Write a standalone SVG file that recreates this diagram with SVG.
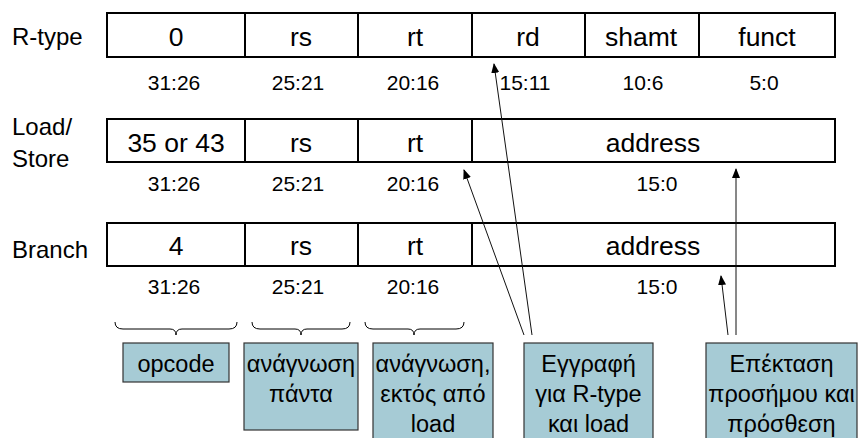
<svg xmlns="http://www.w3.org/2000/svg" width="859" height="438" viewBox="0 0 859 438">
  <defs>
    <marker id="arrowhead" markerUnits="userSpaceOnUse" markerWidth="10" markerHeight="10" viewBox="0 0 10 10" refX="9" refY="5" orient="auto">
      <path d="M0,1 L10,5 L0,9 Z" fill="#000"/>
    </marker>
  </defs>
  <style>
    text { font-family: "Liberation Sans", Arial, sans-serif; fill: #000; }
    .field { font-size: 26.5px; text-anchor: middle; }
    .rowlabel { font-size: 24px; }
    .bits { font-size: 21px; text-anchor: middle; }
    .note { font-size: 23.5px; text-anchor: middle; }
    .frame { fill: #fff; stroke: #000; stroke-width: 2; }
    .div { stroke: #000; stroke-width: 2; }
    .notebox { fill: #a6cbd5; stroke: #333; stroke-width: 1.2; }
    .brace { fill: none; stroke: #000; stroke-width: 1; }
    .link { fill: none; stroke: #111; stroke-width: 1; marker-end: url(#arrowhead); }
  </style>

  <!-- R-type format -->
  <g id="rtype">
    <text class="rowlabel" x="12" y="45">R-type</text>
    <rect class="frame" x="107" y="13" width="728" height="44"/>
    <line class="div" x1="245" y1="13" x2="245" y2="57"/>
    <line class="div" x1="358" y1="13" x2="358" y2="57"/>
    <line class="div" x1="472" y1="13" x2="472" y2="57"/>
    <line class="div" x1="585" y1="13" x2="585" y2="57"/>
    <line class="div" x1="699" y1="13" x2="699" y2="57"/>
    <text class="field" x="176" y="46">0</text>
    <text class="field" x="301" y="46">rs</text>
    <text class="field" x="415" y="46">rt</text>
    <text class="field" x="528" y="46">rd</text>
    <text class="field" x="641" y="46">shamt</text>
    <text class="field" x="767" y="46">funct</text>
    <text class="bits" x="174" y="90">31:26</text>
    <text class="bits" x="298" y="90">25:21</text>
    <text class="bits" x="413" y="90">20:16</text>
    <text class="bits" x="525" y="90">15:11</text>
    <text class="bits" x="643" y="90">10:6</text>
    <text class="bits" x="764" y="90">5:0</text>
  </g>

  <!-- Load/Store format -->
  <g id="loadstore">
    <text class="rowlabel" x="12" y="135">Load/</text>
    <text class="rowlabel" x="12" y="167">Store</text>
    <rect class="frame" x="107" y="119" width="728" height="43"/>
    <line class="div" x1="245" y1="119" x2="245" y2="162"/>
    <line class="div" x1="358" y1="119" x2="358" y2="162"/>
    <line class="div" x1="472" y1="119" x2="472" y2="162"/>
    <text class="field" x="176" y="152">35 or 43</text>
    <text class="field" x="301" y="152">rs</text>
    <text class="field" x="415" y="152">rt</text>
    <text class="field" x="653" y="152">address</text>
    <text class="bits" x="174" y="191">31:26</text>
    <text class="bits" x="298" y="191">25:21</text>
    <text class="bits" x="413" y="191">20:16</text>
    <text class="bits" x="657" y="191">15:0</text>
  </g>

  <!-- Branch format -->
  <g id="branch">
    <text class="rowlabel" x="12" y="258">Branch</text>
    <rect class="frame" x="107" y="223" width="728" height="43"/>
    <line class="div" x1="245" y1="223" x2="245" y2="266"/>
    <line class="div" x1="358" y1="223" x2="358" y2="266"/>
    <line class="div" x1="472" y1="223" x2="472" y2="266"/>
    <text class="field" x="176" y="255">4</text>
    <text class="field" x="301" y="255">rs</text>
    <text class="field" x="415" y="255">rt</text>
    <text class="field" x="653" y="255">address</text>
    <text class="bits" x="174" y="294">31:26</text>
    <text class="bits" x="298" y="294">25:21</text>
    <text class="bits" x="413" y="294">20:16</text>
    <text class="bits" x="657" y="294">15:0</text>
  </g>

  <!-- Braces under the first three fields -->
  <g id="braces">
    <path class="brace" d="M115,322 Q115,329 123,329 L170,329 Q176,329 176,335 Q176,329 182,329 L229,329 Q237,329 237,322"/>
    <path class="brace" d="M252,322 Q252,329 260,329 L295,329 Q301,329 301,335 Q301,329 307,329 L342,329 Q350,329 350,322"/>
    <path class="brace" d="M365,322 Q365,329 373,329 L408,329 Q414,329 414,335 Q414,329 420,329 L456,329 Q464,329 464,322"/>
  </g>

  <!-- Annotation boxes -->
  <g id="note-opcode">
    <rect class="notebox" x="123" y="343" width="106" height="39"/>
    <text class="note" x="176" y="372">opcode</text>
  </g>
  <g id="note-read-always">
    <rect class="notebox" x="244" y="343" width="114" height="87"/>
    <text class="note" x="301" y="372">ανάγνωση</text>
    <text class="note" x="301" y="402">πάντα</text>
  </g>
  <g id="note-read-except-load">
    <rect class="notebox" x="373" y="343" width="120" height="100"/>
    <text class="note" x="433" y="372">ανάγνωση,</text>
    <text class="note" x="433" y="402">εκτός από</text>
    <text class="note" x="433" y="432">load</text>
  </g>
  <g id="note-write">
    <rect class="notebox" x="524" y="343" width="129" height="100"/>
    <text class="note" x="588.5" y="372">Εγγραφή</text>
    <text class="note" x="588.5" y="402">για R-type</text>
    <text class="note" x="588.5" y="432">και load</text>
  </g>
  <g id="note-signext">
    <rect class="notebox" x="706" y="343" width="151" height="100"/>
    <text class="note" x="781.5" y="372">Επέκταση</text>
    <text class="note" x="781.5" y="402">προσήμου και</text>
    <text class="note" x="781.5" y="432">πρόσθεση</text>
  </g>

  <!-- Connectors -->
  <g id="connectors">
    <line class="link" x1="532" y1="335" x2="494" y2="64"/>
    <line class="link" x1="524" y1="335" x2="464" y2="170"/>
    <line class="link" x1="736" y1="335" x2="736" y2="169" stroke="#444"/>
    <line class="link" x1="728" y1="335" x2="721" y2="276"/>
  </g>
</svg>
